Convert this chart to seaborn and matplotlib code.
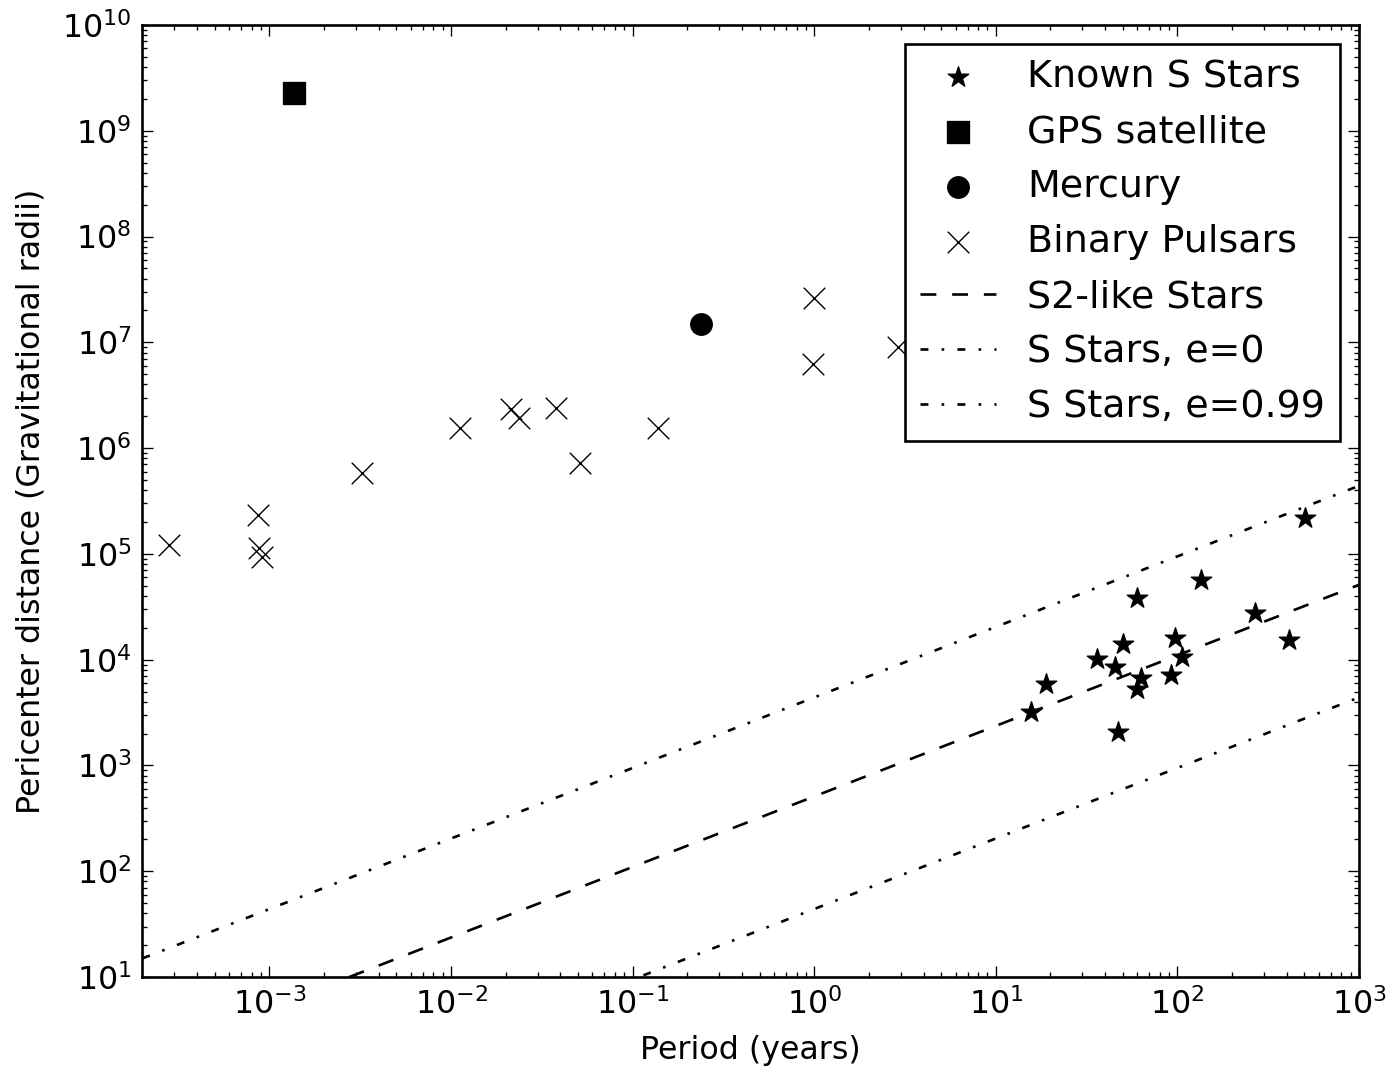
import numpy as np
import matplotlib
matplotlib.use("Agg")
import matplotlib.pyplot as plt
import seaborn as sns
from matplotlib.ticker import LogLocator, NullFormatter

# Known S stars: period (years), pericenter distance (gravitational radii)
sstar_period = [15.6, 18.9, 36.0, 47.0, 45.3, 50.1, 59.9, 59.9, 63.0, 92.1,
                96.8, 106, 135, 267, 411, 504]
sstar_peri = [3.2e3, 5.9e3, 1.02e4, 2.08e3, 8.55e3, 1.41e4, 3.84e4, 5.3e3, 6.7e3,
              7.2e3, 1.61e4, 1.06e4, 5.68e4, 2.77e4, 1.54e4, 2.19e5]

gps_period = [1.36e-3]
gps_peri = [2.3e9]

mercury_period = [0.237]
mercury_peri = [1.5e7]

pulsar_period = [2.81e-4, 8.7e-4, 8.8e-4, 9.15e-4, 3.25e-3, 0.01114, 0.0213,
                 0.0236, 0.0377, 0.0511, 0.1375, 1.0, 0.98, 2.88]
pulsar_peri = [1.22e5, 2.34e5, 1.14e5, 9.4e4, 5.8e5, 1.55e6, 2.35e6, 1.93e6,
               2.4e6, 7.2e5, 1.55e6, 2.63e7, 6.25e6, 9.06e6]

# reference lines, read at the left and right edges of the plot
line_period = [2e-4, 1e3]
s2_peri = [1.74, 5.1e4]
e0_peri = [15, 4.4e5]
e99_peri = [0.15, 4.4e3]

sns.set_style("ticks", rc={"axes.edgecolor": "black", "text.color": "black",
                           "xtick.color": "black", "ytick.color": "black",
                           "axes.labelcolor": "black"})
plt.rcParams['font.family'] = ['DejaVu Sans']
plt.rcParams['mathtext.default'] = 'regular'
plt.rcParams['lines.scale_dashes'] = False

fig = plt.figure(figsize=(13.97, 10.68), dpi=100)
ax = fig.add_axes([0.1020, 0.0852, 0.8708, 0.8914])
ax.set_xscale('log')
ax.set_yscale('log')

ms = 15.5
sns.scatterplot(x=sstar_period, y=sstar_peri, marker='*', s=ms**2, color='k',
                edgecolor='k', linewidth=0.95, label='Known S Stars', ax=ax, zorder=3)
sns.scatterplot(x=gps_period, y=gps_peri, marker='s', s=ms**2, color='k',
                edgecolor='k', linewidth=0.95, label='GPS satellite', ax=ax, zorder=3)
sns.scatterplot(x=mercury_period, y=mercury_peri, marker='o', s=ms**2, color='k',
                edgecolor='k', linewidth=0.95, label='Mercury', ax=ax, zorder=3)
sns.scatterplot(x=pulsar_period, y=pulsar_peri, marker='x', s=ms**2, color='k',
                linewidth=1.0, label='Binary Pulsars', ax=ax, zorder=3)

sns.lineplot(x=line_period, y=s2_peri, color='k', lw=1.9,
             linestyle=(0, (11.4, 11.4)), label='S2-like Stars', ax=ax)
sns.lineplot(x=line_period, y=e0_peri, color='k', lw=1.9,
             linestyle=(0, (5.7, 9.5, 1.9, 9.5)), label='S Stars, e=0', ax=ax)
sns.lineplot(x=line_period, y=e99_peri, color='k', lw=1.9,
             linestyle=(0, (5.7, 9.5, 1.9, 9.5)), label='S Stars, e=0.99', ax=ax)

ax.set_xlim(2e-4, 1e3)
ax.set_ylim(10, 1e10)

for axis in (ax.xaxis, ax.yaxis):
    axis.set_major_locator(LogLocator(base=10, numticks=20))
    axis.set_minor_locator(LogLocator(base=10, subs=np.arange(2, 10), numticks=20))
    axis.set_minor_formatter(NullFormatter())

ax.tick_params(which='both', direction='in', top=True, right=True)
ax.tick_params(which='major', length=7.6, width=0.95, labelsize=22.8, pad=8)
ax.tick_params(which='minor', length=3.8, width=0.95)
for s in ax.spines.values():
    s.set_linewidth(1.9)

ax.set_xlabel('Period (years)', fontsize=22.8, labelpad=10)
ax.set_ylabel('Pericenter distance (Gravitational radii)', fontsize=22.8, labelpad=11)

leg = ax.legend(loc='upper right', fontsize=27.4, numpoints=1, scatterpoints=1,
                handlelength=2.0, handletextpad=0.8, borderpad=0.4,
                labelspacing=0.5, borderaxespad=0.5, fancybox=False,
                framealpha=1, edgecolor='k')
leg.get_frame().set_linewidth(1.9)

fig.savefig('out.png', dpi=100)
